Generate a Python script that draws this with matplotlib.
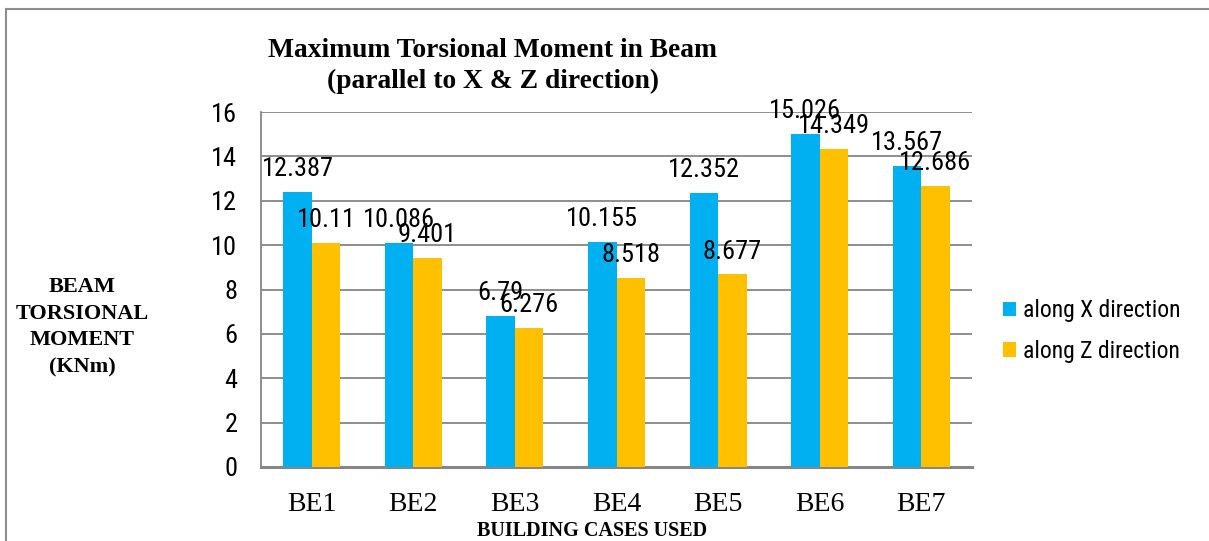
import matplotlib
matplotlib.use("Agg")
import matplotlib.pyplot as plt
import numpy as np
from matplotlib.patches import Rectangle

# data
cases = ["BE1", "BE2", "BE3", "BE4", "BE5", "BE6", "BE7"]
along_x = [12.387, 10.086, 6.79, 10.155, 12.352, 15.026, 13.567]
along_z = [10.11, 9.401, 6.276, 8.518, 8.677, 14.349, 12.686]
x_labels = ["12.387", "10.086", "6.79", "10.155", "12.352", "15.026", "13.567"]
z_labels = ["10.11", "9.401", "6.276", "8.518", "8.677", "14.349", "12.686"]
yticks = [0, 2, 4, 6, 8, 10, 12, 14, 16]

blue = "#00B0F0"
orange = "#FFC000"
grid_col = "#868686"
sans = ["Roboto Condensed", "Archivo Narrow", "Liberation Sans", "DejaVu Sans"]
serif = ["Liberation Serif", "DejaVu Serif"]

W, H = 1209, 541
fig = plt.figure(figsize=(W / 100, H / 100), dpi=100)

# outer chart frame
fig.patches.append(Rectangle((6 / W, -0.05), 1.2, (H - 9) / H + 0.05,
                             transform=fig.transFigure, fill=False,
                             edgecolor="#8c8c8c", linewidth=1.5))

ax = fig.add_axes([261 / W, (H - 467) / H, 711 / W, (467 - 112) / H])

idx = np.arange(len(cases))
bw = 0.28
bx = ax.bar(idx - bw / 2, along_x, bw, color=blue, label="along X direction", zorder=3)
bz = ax.bar(idx + bw / 2, along_z, bw, color=orange, label="along Z direction", zorder=3)

for rect, lab in zip(bx, x_labels):
    ax.annotate(lab, (rect.get_x() + rect.get_width() / 2, rect.get_height()),
                xytext=(0, 11.5), textcoords="offset points", ha="center",
                va="baseline", fontsize=19, family=sans, zorder=4)
for rect, lab in zip(bz, z_labels):
    ax.annotate(lab, (rect.get_x() + rect.get_width() / 2, rect.get_height()),
                xytext=(0, 11.5), textcoords="offset points", ha="center",
                va="baseline", fontsize=19, family=sans, zorder=4)

ax.set_xlim(-0.5, len(cases) - 0.5)
ax.set_ylim(0, 16)
ax.set_yticks(yticks)
ax.set_yticklabels([str(t) for t in yticks], family=sans, fontsize=19)
ax.set_xticks(idx)
ax.set_xticklabels(cases, family=serif, fontsize=20)
ax.tick_params(axis="y", length=0, pad=17)
ax.tick_params(axis="x", length=0, pad=18)
ax.yaxis.grid(True, color=grid_col, linewidth=1.3, zorder=0)
ax.set_axisbelow(True)
for s in ["top", "right"]:
    ax.spines[s].set_visible(False)
ax.spines["left"].set_color(grid_col)
ax.spines["left"].set_linewidth(1.3)
ax.spines["bottom"].set_color(grid_col)
ax.spines["bottom"].set_linewidth(2.2)

fig.text(493 / W, 1 - 66 / H, "Maximum Torsional Moment in Beam\n(parallel to X & Z direction)",
         ha="center", va="center", family=serif, fontweight="bold", fontsize=19.8,
         linespacing=1.28)
fig.text(82 / W, 1 - 327 / H, "BEAM\nTORSIONAL\nMOMENT\n(KNm)", ha="center", va="center",
         family=serif, fontweight="bold", fontsize=16, linespacing=1.45)
fig.text(592 / W, 1 - 531 / H, "BUILDING CASES USED", ha="center", va="center",
         family=serif, fontweight="bold", fontsize=14.5)

fig.legend(handles=[bx, bz], loc="center left", bbox_to_anchor=(1003 / W, 1 - 331 / H),
           frameon=False, prop={"family": sans, "size": 17}, handlelength=0.55,
           handleheight=0.55, handletextpad=0.3, labelspacing=0.75,
           borderpad=0, borderaxespad=0)

fig.savefig("out.png", dpi=100)
